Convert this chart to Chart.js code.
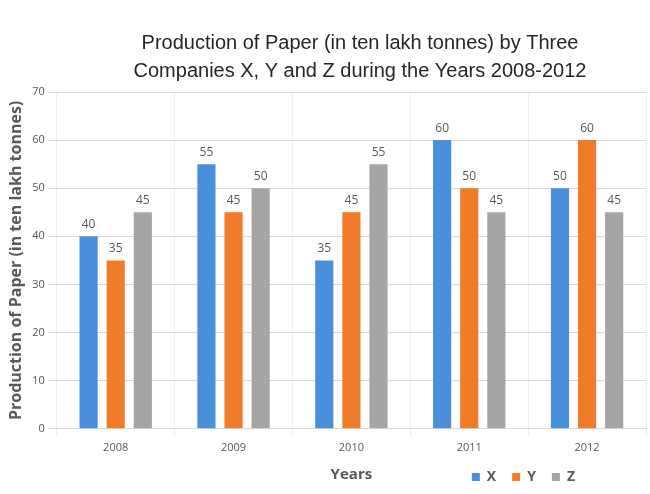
<!DOCTYPE html>
<html>
<head>
<meta charset="utf-8">
<script src="https://cdn.jsdelivr.net/npm/chart.js@4"></script>
<style>
  body { margin: 0; background: #fff; }
  #wrap { width: 650px; height: 494px; }
</style>
</head>
<body>
<div id="wrap"><canvas id="paperChart" width="650" height="494"></canvas></div>
<script>
var years = ['2008', '2009', '2010', '2011', '2012'];
var seriesX = [40, 55, 35, 60, 50];
var seriesY = [35, 45, 45, 50, 60];
var seriesZ = [45, 50, 55, 45, 45];
var titleLines = ['Production of Paper (in ten lakh tonnes) by Three', 'Companies X, Y and Z during the Years 2008-2012'];

// value labels above the bars
var barLabels = {
    id: 'barLabels',
    afterDatasetsDraw: function(chart) {
        var ctx = chart.ctx;
        ctx.save();
        ctx.font = '12px "Open Sans", sans-serif';
        ctx.fillStyle = '#595959';
        ctx.textAlign = 'center';
        ctx.textBaseline = 'bottom';
        chart.data.datasets.forEach(function(ds, i) {
            chart.getDatasetMeta(i).data.forEach(function(bar, j) {
                ctx.fillText(ds.data[j], bar.x, bar.y - 6);
            });
        });
        ctx.restore();
    }
};

// nudge title and legend to where they sit in the original
var nudge = {
    id: 'nudge',
    afterLayout: function(chart) {
        chart.titleBlock.left = 70;
        chart.titleBlock.right = 650;
        chart.legend.right = 591;
    }
};

var ctx = document.getElementById('paperChart').getContext('2d');
var paperChart = new Chart(ctx, {
    type: 'bar',
    data: {
        labels: years,
        datasets: [
            { label: 'X', data: seriesX, backgroundColor: '#4a8fdc' },
            { label: 'Y', data: seriesY, backgroundColor: '#f07b28' },
            { label: 'Z', data: seriesZ, backgroundColor: '#a5a5a5' }
        ]
    },
    options: {
        responsive: false,
        animation: false,
        layout: { padding: { left: 5, right: 4, bottom: 0, top: 4 } },
        datasets: {
            bar: { categoryPercentage: 0.69, barPercentage: 0.67 }
        },
        scales: {
            x: {
                grid: { color: '#eeeeee', offset: true },
                border: { color: '#d9d9d9' },
                ticks: { color: '#595959', font: { family: 'Open Sans', size: 11 }, padding: 4 },
                title: {
                    display: true,
                    text: 'Years',
                    color: '#595959',
                    font: { family: 'Open Sans', size: 15, weight: 'bold' },
                    padding: { top: 8, bottom: -30 }
                }
            },
            y: {
                min: 0,
                max: 70,
                ticks: { stepSize: 10, color: '#595959', font: { family: 'Open Sans', size: 11 }, padding: 4 },
                grid: { color: '#d9d9d9' },
                border: { display: false },
                title: {
                    display: true,
                    text: 'Production of Paper (in ten lakh tonnes)',
                    color: '#595959',
                    font: { family: 'Open Sans', size: 16, weight: 'bold' },
                    padding: 2
                }
            }
        },
        plugins: {
            title: {
                display: true,
                text: titleLines,
                color: '#262626',
                font: { family: '"Liberation Sans Narrow", "Liberation Sans", sans-serif', size: 20, weight: 'normal', lineHeight: 1.4 },
                padding: { top: 25, bottom: 7 }
            },
            legend: {
                position: 'bottom',
                align: 'end',
                labels: {
                    boxWidth: 8,
                    boxHeight: 8,
                    padding: 16,
                    color: '#595959',
                    font: { family: 'Open Sans', size: 14, weight: 'bold' }
                }
            },
            tooltip: { enabled: false }
        }
    },
    plugins: [barLabels, nudge]
});
</script>
</body>
</html>
